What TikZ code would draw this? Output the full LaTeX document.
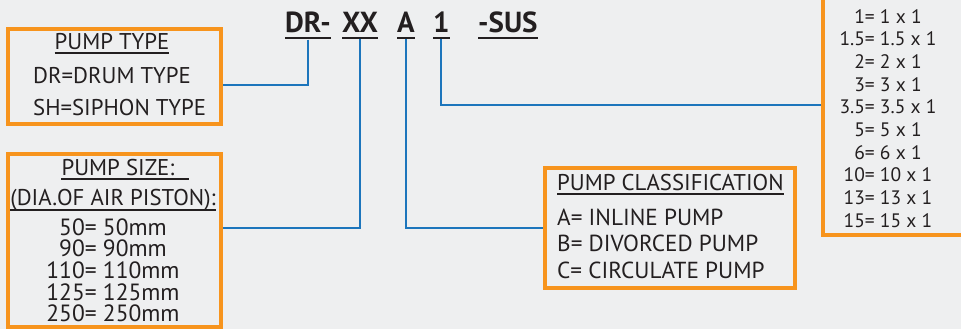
\documentclass[tikz,border=0pt]{standalone}
\usepackage{fontspec}
\setmainfont{PT Sans}
\definecolor{bgpaper}{RGB}{238,239,240}
\definecolor{pumporange}{RGB}{247,148,29}
\definecolor{pumpblue}{RGB}{28,117,188}
\definecolor{inkgray}{RGB}{35,31,32}
\tikzset{
  infobox/.style={draw=pumporange, line width=3.5pt, inner sep=0pt},
  link/.style={draw=pumpblue, line width=2pt},
  codepart/.style={font=\bfseries\fontsize{29}{29}\selectfont, text=inkgray, inner sep=0pt, anchor=base west},
  boxtext/.style={font=\fontsize{22.8}{31}\selectfont, text=inkgray, inner sep=0pt, anchor=base},
  uline/.style={draw=inkgray, line width=1.5pt},
}
\begin{document}
\begin{tikzpicture}[x=1pt,y=-1pt]
    % Background
    \fill[bgpaper] (0,0) rectangle (961,329);
    \clip (0,0) rectangle (961,329);

    % Model code
    \node[codepart] (dr) at (285,33) {DR-};
    \node[codepart] (size) at (342,33) {XX};
    \node[codepart] (cls) at (397,33) {A};
    \node[codepart] (ratio) at (433,33) {1};
    \node[codepart] (sus) at (478,33) {-SUS};
    \foreach \n in {dr,size,cls,ratio,sus}
        \draw[uline, line width=2.5pt] ([yshift=-5pt]\n.base west) -- ([yshift=-5pt]\n.base east);

    % Boxes
    \node[infobox, minimum width=213pt, minimum height=95pt] (typebox) at (114.5,76.5) {};
    \node[infobox, minimum width=213pt, minimum height=173pt] (sizebox) at (114.5,240.5) {};
    \node[infobox, minimum width=250pt, minimum height=120pt] (clsbox) at (670,228) {};
    \node[infobox, minimum width=152pt, minimum height=245pt] (ratiobox) at (899,112.5) {};

    % Connectors
    \draw[link] ([yshift=-6pt]dr.south) |- ([yshift=-8.5pt]typebox.east);
    \draw[link] ([yshift=-6pt]size.south) |- ([yshift=12.5pt]sizebox.east);
    \draw[link] ([yshift=-6pt]cls.south) |- (clsbox.west);
    \draw[link] ([yshift=-6pt]ratio.south) |- ([yshift=7.5pt]ratiobox.west);

    % Pump type
    \node[boxtext] (typehead) at (112,50) {PUMP TYPE};
    \draw[uline] ([yshift=-3pt]typehead.base west) -- ([yshift=-3pt]typehead.base east);
    \node[boxtext, anchor=base west] (typedr) at (33,84) {DR=DRUM TYPE};
    \node[boxtext, anchor=base west] (typesh) at (33,115) {SH=SIPHON TYPE};

    % Pump size
    \node[boxtext] (sizehead) at (118,175) {PUMP SIZE:};
    \draw[uline] ([yshift=-4pt]sizehead.base west) -- ([yshift=-4pt,xshift=14pt]sizehead.base east);
    \node[boxtext] (sizesub) at (113,205) {(DIA.OF AIR PISTON):};
    \draw[uline] ([yshift=-5pt]sizesub.base west) -- ([yshift=-5pt]sizesub.base east);
    \node[boxtext, align=center, font=\fontsize{23.5}{21.7}\selectfont] (sizelist) at (113,321.8)
        {50= 50mm\\90= 90mm\\110= 110mm\\125= 125mm\\250= 250mm};

    % Pump classification
    \node[boxtext, anchor=base west] (clshead) at (557,190) {PUMP CLASSIFICATION};
    \draw[uline] ([yshift=-4pt]clshead.base west) -- ([yshift=-4pt]clshead.base east);
    \node[boxtext, anchor=base west, align=left, font=\fontsize{23.2}{26.5}\selectfont] (clslist) at (557,278)
        {A= INLINE PUMP\\B= DIVORCED PUMP\\C= CIRCULATE PUMP};

    % Ratio list
    \node[boxtext, align=center, font=\fontsize{19.5}{22.7}\selectfont] (ratiolist) at (888,227.3)
        {1= 1 x 1\\1.5= 1.5 x 1\\2= 2 x 1\\3= 3 x 1\\3.5= 3.5 x 1\\5= 5 x 1\\6= 6 x 1\\10= 10 x 1\\13= 13 x 1\\15= 15 x 1};
\end{tikzpicture}
\end{document}
